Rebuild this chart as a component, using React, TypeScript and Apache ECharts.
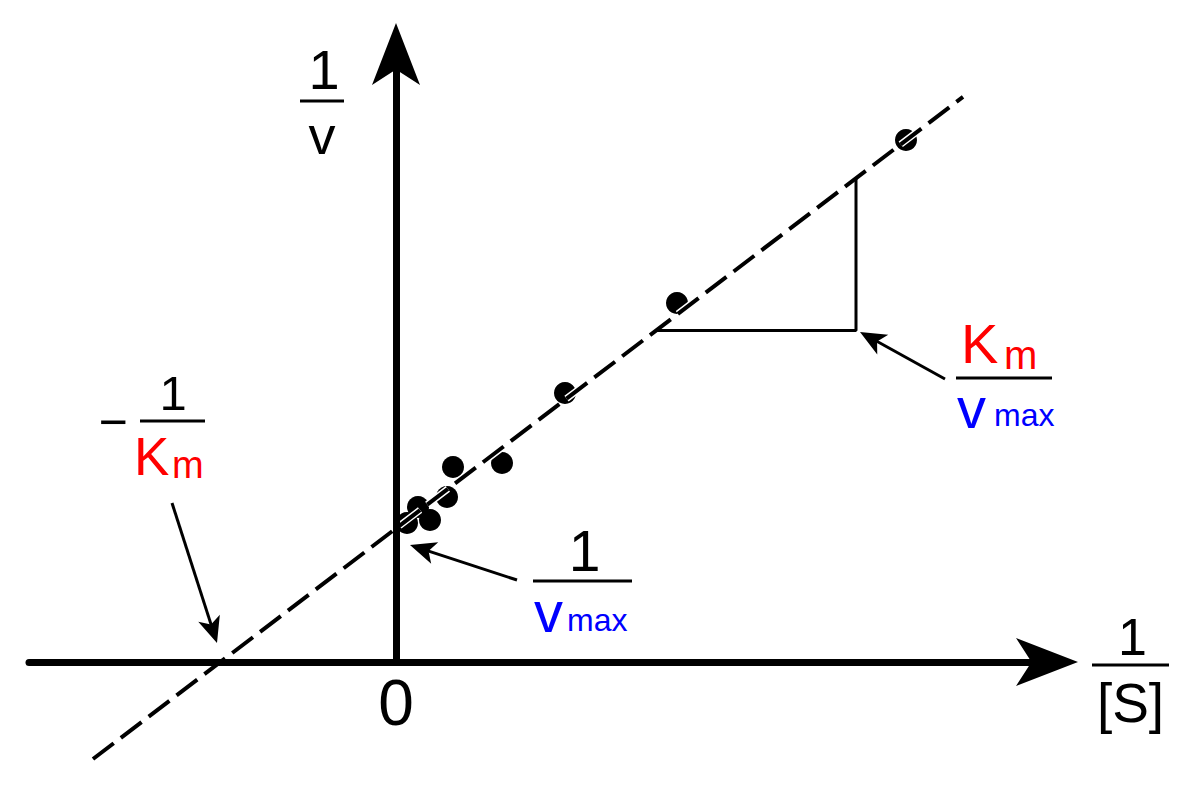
import React, { useEffect, useRef } from "react";
import * as echarts from "echarts";

// Measured points (1/[S], 1/v) in arbitrary units
const pointsX = [5.1, 2.81, 1.69, 1.06, 0.57, 0.51, 0.22, 0.34, 0.11];
const pointsY = [5.22, 3.59, 2.69, 1.99, 1.95, 1.65, 1.55, 1.42, 1.39];

// Fitted line: 1/v = INTERCEPT + SLOPE * 1/[S]
const INTERCEPT = 1.336; // 1/Vmax
const SLOPE = 0.761; // Km/Vmax
const fitX = [-3.03, 5.67];
const triangleX = [2.6, 4.6];

// axis extents (data units)
const xAxisRange = [-3.67, 6.82];
const yAxisRange = [0, 6.39];
const viewX = [-3.96, 8.04];
const viewY = [-1.31, 6.62];

const PX = 100; // pixels per data unit
const FONT = '"Liberation Sans", Arial, Helvetica, sans-serif';

const f = (x: number) => INTERCEPT + SLOPE * x;

// shaft stops inside the head so the tip stays sharp
function arrow(from: number[], tip: number[], w: number, h: number, lw: number, cap?: string) {
  const dx = tip[0] - from[0];
  const dy = tip[1] - from[1];
  const len = Math.sqrt(dx * dx + dy * dy);
  const back = (h * 0.6) / PX;
  const mid = [tip[0] - (dx / len) * back, tip[1] - (dy / len) * back];
  return [
    [
      { coord: from, symbol: "none", lineStyle: { width: lw, color: "#000", type: "solid", cap: cap || "butt" } },
      { coord: mid, symbol: "none" },
    ],
    [
      { coord: mid, symbol: "none", lineStyle: { width: 0, color: "#000", type: "solid" } },
      { coord: tip, symbol: "arrow", symbolSize: [w, h] },
    ],
  ];
}

function txt(text: string, x: number, y: number, size: number, color = "#000", align = "center") {
  return {
    type: "text",
    x,
    y,
    z: 100,
    style: {
      text,
      fontSize: size,
      fontFamily: FONT,
      fill: color,
      align,
      verticalAlign: "middle",
      textAlign: align,
      textVerticalAlign: "middle",
    },
  };
}

function bar(x1: number, x2: number, y: number) {
  return {
    type: "line",
    z: 100,
    shape: { x1, y1: y, x2, y2: y },
    style: { stroke: "#000", lineWidth: 3 },
  };
}

export default function App() {
  const ref = useRef<HTMLDivElement>(null);
  useEffect(() => {
    if (!ref.current) return;
    const chart = echarts.init(ref.current, null, { renderer: "svg" });
    const pts = pointsX.map((x, i) => [x, pointsY[i]]);
    const fit = fitX.map((x) => [x, f(x)]);
    const tri = [
      [triangleX[0], f(triangleX[0])],
      [triangleX[1], f(triangleX[0])],
      [triangleX[1], f(triangleX[1])],
    ];
    const option: any = {
      animation: false,
      backgroundColor: "#fff",
      grid: { left: 0, right: 0, top: 0, bottom: 0 },
      xAxis: { type: "value", min: viewX[0], max: viewX[1], show: false },
      yAxis: { type: "value", min: viewY[0], max: viewY[1], show: false },
      series: [
        {
          type: "scatter",
          data: pts,
          symbol: "circle",
          symbolSize: 22,
          itemStyle: { color: "#000", opacity: 1 },
          z: 1,
          silent: true,
        },
        {
          type: "line",
          data: fit,
          symbol: "none",
          lineStyle: { color: "#fff", width: 7, type: [26, 9] },
          z: 2,
          silent: true,
        },
        {
          type: "line",
          data: tri,
          symbol: "none",
          lineStyle: { color: "#000", width: 3 },
          z: 3,
          silent: true,
          markLine: {
            silent: true,
            animation: false,
            label: { show: false },
            emphasis: { disabled: true },
            symbol: ["none", "arrow"],
            itemStyle: { color: "#000" },
            data: [
              ...arrow([xAxisRange[0], 0], [xAxisRange[1], 0], 36, 62, 7, "round"),
              ...arrow([0, yAxisRange[0]], [0, yAxisRange[1]], 36, 62, 7, "round"),
              ...arrow([1.21, 0.82], [0.14, 1.17], 17, 26, 3),
              ...arrow([5.49, 2.83], [4.64, 3.3], 17, 26, 3),
              ...arrow([-2.24, 1.59], [-1.79, 0.19], 17, 26, 3),
            ],
          },
        },
        {
          type: "line",
          data: fit,
          symbol: "none",
          lineStyle: { color: "#000", width: 4, type: [26, 9] },
          z: 4,
          silent: true,
        },
      ],
      graphic: [
        // 1/v
        txt("1", 324, 69, 56),
        bar(300, 344, 101),
        txt("v", 322, 135, 54),
        // 0
        txt("0", 396, 703, 64),
        // 1/[S]
        txt("1", 1132.5, 637, 52),
        bar(1092, 1169, 665),
        txt("[S]", 1130.5, 703, 55),
        // -1/Km
        txt("\u2212", 113, 422, 50),
        txt("1", 173, 393, 49),
        bar(140, 205, 421),
        txt("K", 134, 456.6, 53, "#ff0000", "left"),
        txt("m", 172, 465, 38, "#ff0000", "left"),
        // Km/vmax
        txt("K", 961, 343, 56, "#ff0000", "left"),
        txt("m", 1004, 355, 40, "#ff0000", "left"),
        bar(956, 1052, 378),
        txt("v", 957, 407, 58, "#0000ff", "left"),
        txt("max", 994, 415, 32, "#0000ff", "left"),
        // 1/vmax
        txt("1", 584.5, 551, 57),
        bar(533, 632, 581),
        txt("v", 534, 611, 58, "#0000ff", "left"),
        txt("max", 567, 620, 32, "#0000ff", "left"),
      ],
    };
    chart.setOption(option);
    return () => chart.dispose();
  }, []);
  return <div ref={ref} style={{ position: "absolute", left: 0, top: 0, width: 1200, height: 793 }} />;
}
